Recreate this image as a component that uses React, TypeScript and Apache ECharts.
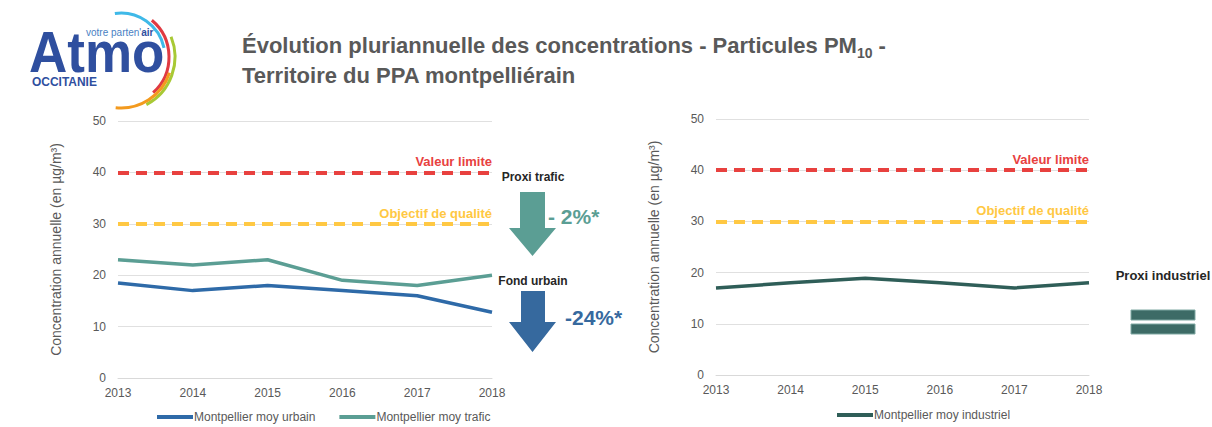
import React, { useEffect, useRef } from "react";
import * as echarts from "echarts";

const years = ["2013", "2014", "2015", "2016", "2017", "2018"];
const urbain = [18.5, 17, 18, 17, 16, 12.8];
const trafic = [23, 22, 23, 19, 18, 20];
const industriel = [17, 18, 18.9, 18, 17, 18];
const valeurLimite = 40;
const objectifQualite = 30;
const seriesNames = ["Montpellier moy urbain", "Montpellier moy trafic", "Montpellier moy industriel"];

const FONT = '"Liberation Sans Narrow", "Arial Narrow", "Liberation Sans", Arial, sans-serif';
const LOGOFONT = '"Liberation Sans", Arial, sans-serif';
const GREY = "#595959";
const RED = "#e8413f";
const YELLOW = "#ffc843";
const BLUE = "#2e6aa8";
const TEAL = "#5b9e94";
const DARK = "#2f5e58";

function refLines() {
  return {
    symbol: "none",
    silent: true,
    data: [
      {
        yAxis: valeurLimite,
        lineStyle: { color: RED, type: [11, 7], width: 4 },
        label: { formatter: "Valeur limite", color: RED },
      },
      {
        yAxis: objectifQualite,
        lineStyle: { color: YELLOW, type: [11, 7], width: 4 },
        label: { formatter: "Objectif de qualité", color: YELLOW },
      },
    ],
    label: {
      position: "insideEndTop",
      fontFamily: FONT,
      fontWeight: "bold",
      fontSize: 13,
      distance: [0, 4],
    },
  };
}

function yAxis(gridIndex: number) {
  return {
    type: "value",
    gridIndex,
    min: 0,
    max: 50,
    interval: 10,
    name: "Concentration annuelle (en µg/m³)",
    nameLocation: "middle",
    nameGap: 55,
    nameTextStyle: { color: GREY, fontFamily: FONT, fontSize: 14 },
    axisLabel: { color: GREY, fontFamily: FONT, fontSize: 12, margin: 12 },
    axisLine: { show: false },
    axisTick: { show: false },
    splitLine: { lineStyle: { color: "#e0e0e0", width: 1 } },
  };
}

function xAxis(gridIndex: number) {
  return {
    type: "category",
    gridIndex,
    data: years,
    boundaryGap: false,
    axisLabel: { color: GREY, fontFamily: FONT, fontSize: 12, margin: 9 },
    axisLine: { lineStyle: { color: "#d9d9d9" } },
    axisTick: { show: false },
  };
}

export default function App() {
  const ref = useRef<HTMLDivElement>(null);
  useEffect(() => {
    if (!ref.current) return;
    const chart = echarts.init(ref.current, null, { renderer: "svg" });
    const cx = 121;
    const cy = 57;
    const deg = Math.PI / 180;
    chart.setOption({
      animation: false,
      backgroundColor: "#ffffff",
      grid: [
        { left: 118, width: 374, top: 121, height: 257 },
        { left: 716, width: 373, top: 119, height: 256 },
      ],
      xAxis: [xAxis(0), xAxis(1)],
      yAxis: [yAxis(0), yAxis(1)],
      legend: [
        {
          data: [seriesNames[0], seriesNames[1]],
          left: 152,
          top: 406,
          icon: "rect",
          itemWidth: 36,
          itemHeight: 4,
          itemGap: 24,
          textStyle: { color: GREY, fontFamily: FONT, fontSize: 12, padding: [0, 0, 0, -4] },
        },
        {
          data: [seriesNames[2]],
          left: 832,
          top: 404,
          icon: "rect",
          itemWidth: 36,
          itemHeight: 4,
          textStyle: { color: GREY, fontFamily: FONT, fontSize: 12, padding: [0, 0, 0, -4] },
        },
      ],
      series: [
        {
          name: seriesNames[0],
          type: "line",
          xAxisIndex: 0,
          yAxisIndex: 0,
          data: urbain,
          symbol: "none",
          lineStyle: { color: BLUE, width: 3.5 },
          itemStyle: { color: BLUE },
          z: 3,
          markLine: refLines(),
        },
        {
          name: seriesNames[1],
          type: "line",
          xAxisIndex: 0,
          yAxisIndex: 0,
          data: trafic,
          symbol: "none",
          lineStyle: { color: TEAL, width: 3.5 },
          itemStyle: { color: TEAL },
          z: 3,
        },
        {
          name: seriesNames[2],
          type: "line",
          xAxisIndex: 1,
          yAxisIndex: 1,
          data: industriel,
          symbol: "none",
          lineStyle: { color: DARK, width: 3.5 },
          itemStyle: { color: DARK },
          z: 3,
          markLine: refLines(),
        },
      ],
      graphic: [
        // Logo arcs
        { type: "arc", shape: { cx, cy, r: 44, startAngle: -98 * deg, endAngle: -12 * deg }, style: { stroke: "#3fb9e8", lineWidth: 3, fill: null } },
        { type: "arc", shape: { cx, cy, r: 48, startAngle: -50 * deg, endAngle: 48 * deg }, style: { stroke: "#e03a42", lineWidth: 3, fill: null } },
        { type: "arc", shape: { cx, cy, r: 54, startAngle: -22 * deg, endAngle: 62 * deg }, style: { stroke: "#a8c935", lineWidth: 3, fill: null } },
        { type: "arc", shape: { cx, cy, r: 51, startAngle: 18 * deg, endAngle: 96 * deg }, style: { stroke: "#f39a1e", lineWidth: 3, fill: null } },
        // Logo text
        {
          type: "text",
          x: 29,
          y: 24,
          scaleX: 0.93,
          style: { text: "Atmo", fontFamily: LOGOFONT, fontWeight: "bold", fontSize: 57, fill: "#2f4f9f" },
        },
        {
          type: "text",
          x: 86,
          y: 27,
          style: {
            text: "{a|votre parten'}{b|air}",
            rich: {
              a: { fontFamily: LOGOFONT, fontSize: 10, fill: "#4a7fc4" },
              b: { fontFamily: LOGOFONT, fontSize: 10, fontWeight: "bold", fill: "#2f4f9f" },
            },
          },
        },
        {
          type: "text",
          x: 32,
          y: 75,
          scaleX: 0.92,
          style: { text: "OCCITANIE", fontFamily: LOGOFONT, fontWeight: "bold", fontSize: 13, fill: "#2f4f9f" },
        },
        // Title
        {
          type: "text",
          left: 242,
          top: 34,
          style: {
            text: "{t|Évolution pluriannuelle des concentrations - Particules PM}{s|10}{t| -}\n{t|Territoire du PPA montpelliérain}",
            rich: {
              t: { fontFamily: FONT, fontWeight: "bold", fontSize: 22, fill: GREY, lineHeight: 30, verticalAlign: "bottom" },
              s: { fontFamily: FONT, fontWeight: "bold", fontSize: 14, fill: GREY, lineHeight: 30, verticalAlign: "bottom", padding: [0, 0, -4, 0] },
            },
          },
        },
        // Trend annotations
        {
          type: "text",
          x: 533,
          y: 177,
          style: { text: "Proxi trafic", fontFamily: FONT, fontWeight: "bold", fontSize: 12, fill: "#262626", align: "center", verticalAlign: "middle" },
        },
        {
          type: "polygon",
          shape: { points: [[520, 192], [545, 192], [545, 228], [556, 228], [532.5, 256], [509, 228], [520, 228]] },
          style: { fill: TEAL },
        },
        {
          type: "text",
          x: 548,
          y: 216,
          style: { text: "- 2%*", fontFamily: FONT, fontWeight: "bold", fontSize: 21, fill: TEAL, verticalAlign: "middle" },
        },
        {
          type: "text",
          x: 533,
          y: 281,
          style: { text: "Fond urbain", fontFamily: FONT, fontWeight: "bold", fontSize: 12, fill: "#262626", align: "center", verticalAlign: "middle" },
        },
        {
          type: "polygon",
          shape: { points: [[521, 291], [545, 291], [545, 322], [556, 322], [532.5, 352], [509, 322], [521, 322]] },
          style: { fill: "#36699e" },
        },
        {
          type: "text",
          x: 565,
          y: 317,
          style: { text: "-24%*", fontFamily: FONT, fontWeight: "bold", fontSize: 21, fill: "#36699e", verticalAlign: "middle" },
        },
        {
          type: "text",
          x: 1163,
          y: 275,
          style: { text: "Proxi industriel", fontFamily: FONT, fontWeight: "bold", fontSize: 13, fill: "#262626", align: "center", verticalAlign: "middle" },
        },
        { type: "rect", shape: { x: 1131, y: 310, width: 64, height: 10 }, style: { fill: "#3d6b66", stroke: "#7ea8a2", lineWidth: 1 } },
        { type: "rect", shape: { x: 1131, y: 324, width: 64, height: 10 }, style: { fill: "#3d6b66", stroke: "#7ea8a2", lineWidth: 1 } },
      ],
    });
    return () => chart.dispose();
  }, []);
  return (
    <div
      ref={ref}
      style={{ position: "fixed", left: 0, top: 0, width: 1212, height: 427, background: "#fff" }}
    />
  );
}
